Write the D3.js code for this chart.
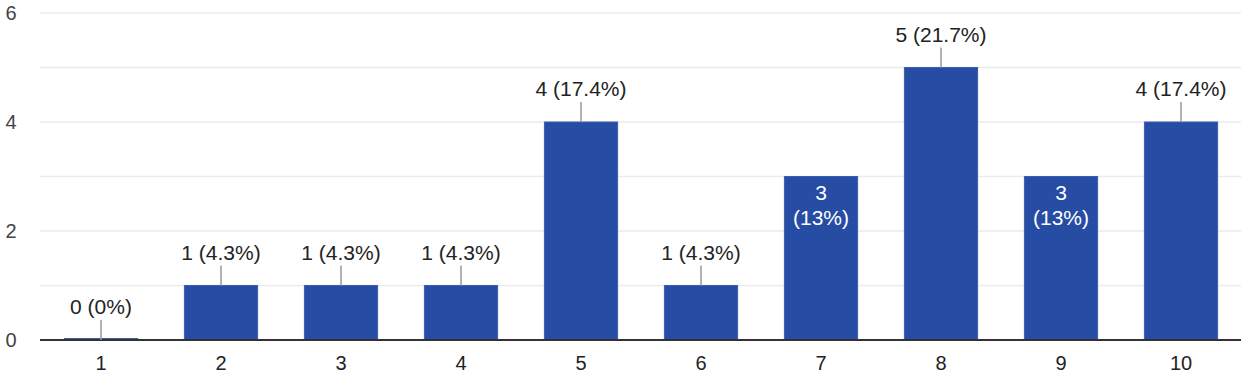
<!DOCTYPE html>
<html>
<head>
<meta charset="utf-8">
<script src="https://cdn.jsdelivr.net/npm/d3@7"></script>
<style>
  body { margin: 0; background: #fff; }
  text { font-family: "Liberation Sans", Arial, sans-serif; }
</style>
</head>
<body>
<div id="chart"></div>
<script>
// Data
var categories = ["1", "2", "3", "4", "5", "6", "7", "8", "9", "10"];
var counts = [0, 1, 1, 1, 4, 1, 3, 5, 3, 4];
var percents = ["0%", "4.3%", "4.3%", "4.3%", "17.4%", "4.3%", "13%", "21.7%", "13%", "17.4%"];
var insideLabel = [false, false, false, false, false, false, true, false, true, false];
var yTicks = [0, 2, 4, 6];
var gridValues = [1, 2, 3, 4, 5, 6];

var width = 1248, height = 379;
var margin = {top: 13, right: 7, bottom: 39, left: 41};

var svg = d3.select("#chart").append("svg")
    .attr("width", width)
    .attr("height", height);

var x = d3.scaleBand()
    .domain(categories)
    .range([margin.left, width - margin.right])
    .paddingInner(0.39)
    .paddingOuter(0.195);

var y = d3.scaleLinear()
    .domain([0, 6])
    .range([height - margin.bottom, margin.top]);

// gridlines
svg.append("g")
  .selectAll("line")
  .data(gridValues)
  .enter().append("line")
    .attr("x1", margin.left - 1)
    .attr("x2", width - margin.right)
    .attr("y1", function(d) { return y(d); })
    .attr("y2", function(d) { return y(d); })
    .attr("stroke", "#ebebeb")
    .attr("stroke-width", 1.5);

// y tick labels
svg.append("g")
  .selectAll("text")
  .data(yTicks)
  .enter().append("text")
    .attr("x", 11)
    .attr("y", function(d) { return y(d); })
    .attr("dy", "0.35em")
    .attr("text-anchor", "middle")
    .attr("font-size", 20)
    .attr("fill", "#444")
    .text(function(d) { return d; });

var data = categories.map(function(c, i) {
  return {cat: c, count: counts[i], pct: percents[i], inside: insideLabel[i]};
});

// bars
svg.append("g")
  .selectAll("rect")
  .data(data)
  .enter().append("rect")
    .attr("x", function(d) { return x(d.cat); })
    .attr("width", x.bandwidth())
    .attr("y", function(d) { return d.count === 0 ? y(0) - 1.5 : y(d.count); })
    .attr("height", function(d) { return d.count === 0 ? 1.5 : y(0) - y(d.count); })
    .attr("fill", "#264ca4")
    .attr("stroke", "#3b5fb0")
    .attr("stroke-width", 1);

// baseline
svg.append("line")
    .attr("x1", margin.left - 1)
    .attr("x2", width - margin.right)
    .attr("y1", y(0))
    .attr("y2", y(0))
    .attr("stroke", "#333")
    .attr("stroke-width", 2);

// x labels
svg.append("g")
  .selectAll("text")
  .data(categories)
  .enter().append("text")
    .attr("x", function(d) { return x(d) + x.bandwidth() / 2; })
    .attr("y", y(0) + 23)
    .attr("dy", "0.35em")
    .attr("text-anchor", "middle")
    .attr("font-size", 20)
    .attr("fill", "#222")
    .text(function(d) { return d; });

// outside labels with leader lines
var outside = data.filter(function(d) { return !d.inside; });
var lbl = svg.append("g");
lbl.selectAll("line")
  .data(outside)
  .enter().append("line")
    .attr("x1", function(d) { return x(d.cat) + x.bandwidth() / 2; })
    .attr("x2", function(d) { return x(d.cat) + x.bandwidth() / 2; })
    .attr("y1", function(d) { return y(d.count); })
    .attr("y2", function(d) { return y(d.count) - 20; })
    .attr("stroke", "#999")
    .attr("stroke-width", 1.5);
lbl.selectAll("text")
  .data(outside)
  .enter().append("text")
    .attr("x", function(d) { return x(d.cat) + x.bandwidth() / 2; })
    .attr("y", function(d) { return y(d.count) - 33; })
    .attr("dy", "0.35em")
    .attr("text-anchor", "middle")
    .attr("font-size", 21)
    .attr("fill", "#222")
    .text(function(d) { return d.count + " (" + d.pct + ")"; });

// inside labels (two lines, white)
var inside = data.filter(function(d) { return d.inside; });
var inl = svg.append("g").selectAll("text")
  .data(inside)
  .enter().append("text")
    .attr("text-anchor", "middle")
    .attr("font-size", 21)
    .attr("fill", "#fff");
inl.append("tspan")
    .attr("x", function(d) { return x(d.cat) + x.bandwidth() / 2; })
    .attr("y", function(d) { return y(d.count) + 16; })
    .attr("dy", "0.35em")
    .text(function(d) { return d.count; });
inl.append("tspan")
    .attr("x", function(d) { return x(d.cat) + x.bandwidth() / 2; })
    .attr("y", function(d) { return y(d.count) + 41; })
    .attr("dy", "0.35em")
    .text(function(d) { return "(" + d.pct + ")"; });
</script>
</body>
</html>
